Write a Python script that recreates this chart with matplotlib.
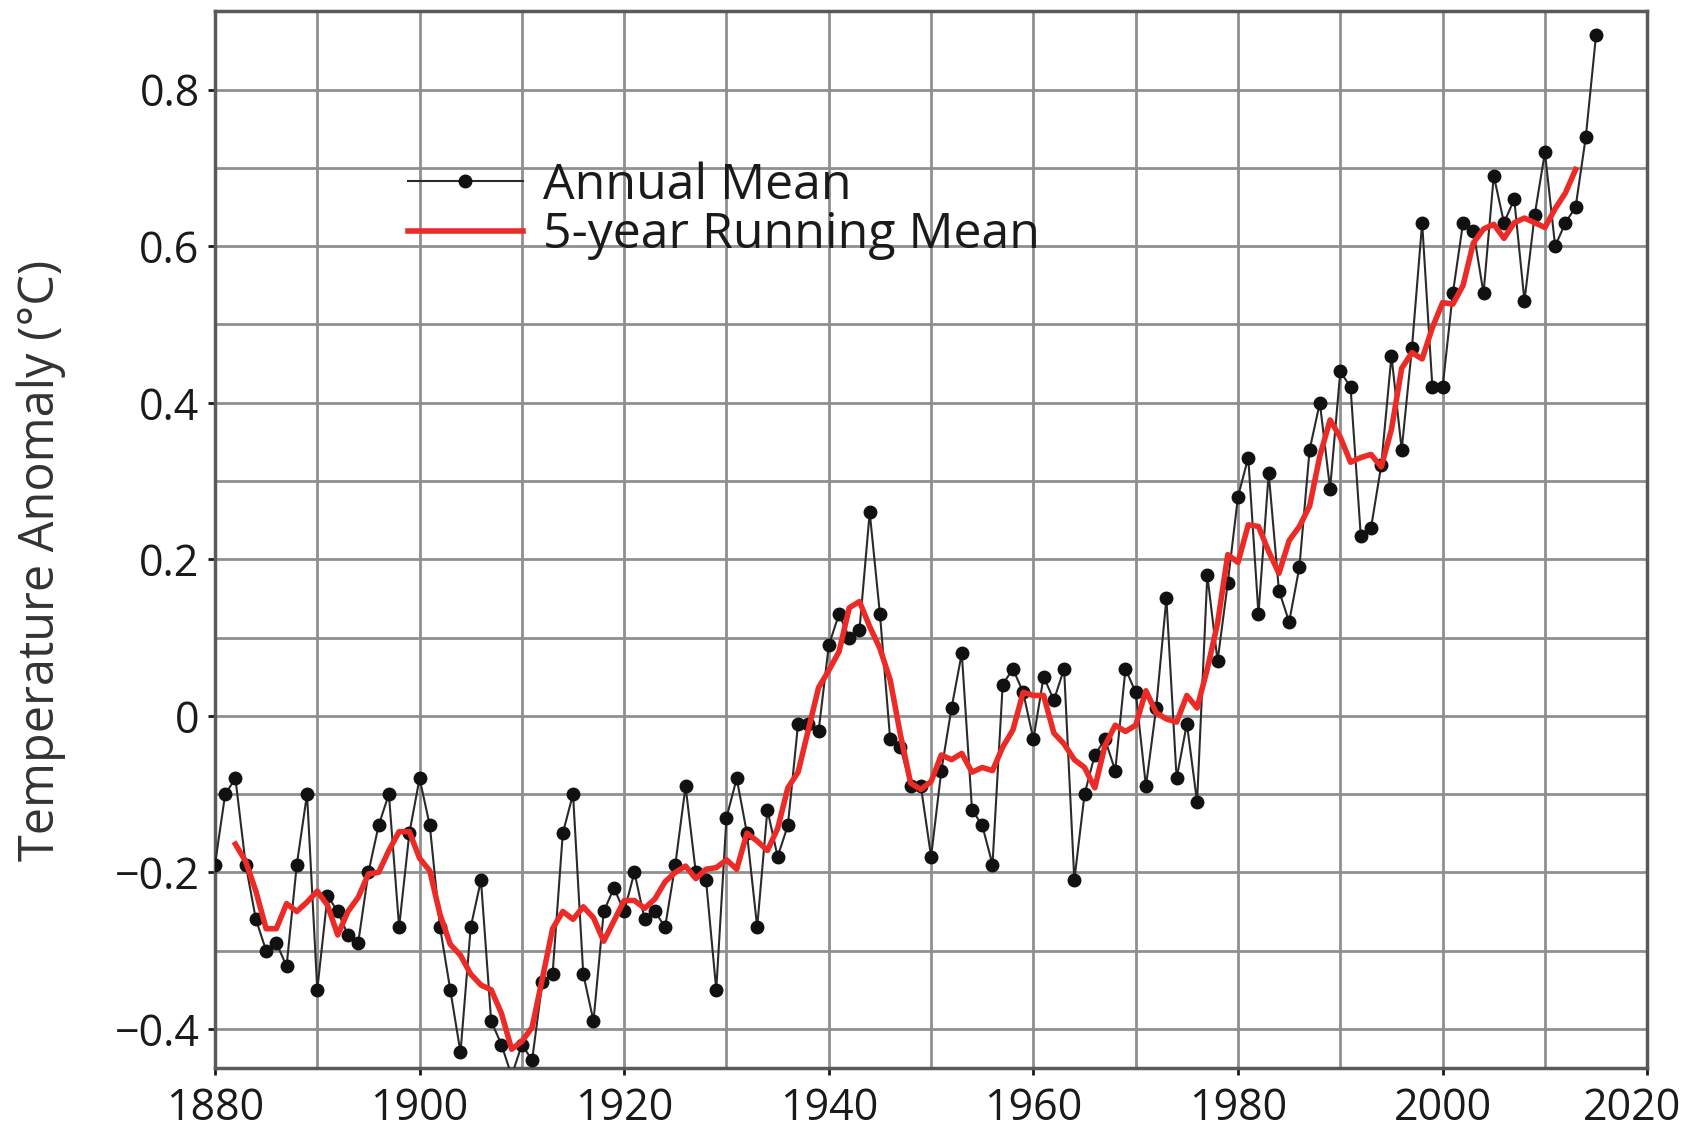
import matplotlib
matplotlib.use("Agg")
import matplotlib.pyplot as plt
import matplotlib.transforms as mtransforms

plt.rcParams['font.family'] = ['Open Sans', 'DejaVu Sans']

# annual global temperature anomaly (deg C), 1880-2015
years = list(range(1880, 2016))
annual = [
    -0.19, -0.10, -0.08, -0.19, -0.26, -0.30, -0.29, -0.32, -0.19, -0.10,   # 1880s
    -0.35, -0.23, -0.25, -0.28, -0.29, -0.20, -0.14, -0.10, -0.27, -0.15,   # 1890s
    -0.08, -0.14, -0.27, -0.35, -0.43, -0.27, -0.21, -0.39, -0.42, -0.46,   # 1900s
    -0.42, -0.44, -0.34, -0.33, -0.15, -0.10, -0.33, -0.39, -0.25, -0.22,   # 1910s
    -0.25, -0.20, -0.26, -0.25, -0.27, -0.19, -0.09, -0.20, -0.21, -0.35,   # 1920s
    -0.13, -0.08, -0.15, -0.27, -0.12, -0.18, -0.14, -0.01, -0.01, -0.02,   # 1930s
    0.09, 0.13, 0.10, 0.11, 0.26, 0.13, -0.03, -0.04, -0.09, -0.09,         # 1940s
    -0.18, -0.07, 0.01, 0.08, -0.12, -0.14, -0.19, 0.04, 0.06, 0.03,        # 1950s
    -0.03, 0.05, 0.02, 0.06, -0.21, -0.10, -0.05, -0.03, -0.07, 0.06,       # 1960s
    0.03, -0.09, 0.01, 0.15, -0.08, -0.01, -0.11, 0.18, 0.07, 0.17,         # 1970s
    0.28, 0.33, 0.13, 0.31, 0.16, 0.12, 0.19, 0.34, 0.40, 0.29,             # 1980s
    0.44, 0.42, 0.23, 0.24, 0.32, 0.46, 0.34, 0.47, 0.63, 0.42,             # 1990s
    0.42, 0.54, 0.63, 0.62, 0.54, 0.69, 0.63, 0.66, 0.53, 0.64,             # 2000s
    0.72, 0.60, 0.63, 0.65, 0.74, 0.87,                                     # 2010s
]

# 5-year running mean as plotted (1882-2013)
run_years = list(range(1882, 2014))
running = [
    -0.164, -0.186, -0.224, -0.272, -0.272, -0.240, -0.250, -0.238,
    -0.224, -0.242, -0.280, -0.250, -0.232, -0.202, -0.200, -0.172, -0.148, -0.148,
    -0.182, -0.198, -0.254, -0.292, -0.306, -0.330, -0.344, -0.350, -0.380, -0.426,
    -0.416, -0.398, -0.336, -0.272, -0.250, -0.260, -0.244, -0.258, -0.288, -0.262,
    -0.236, -0.236, -0.246, -0.234, -0.212, -0.200, -0.192, -0.208, -0.196, -0.194,
    -0.184, -0.196, -0.150, -0.160, -0.172, -0.144, -0.092, -0.072, -0.018, 0.036,
    0.058, 0.082, 0.138, 0.146, 0.114, 0.086, 0.046, -0.024, -0.086, -0.094,
    -0.084, -0.050, -0.056, -0.048, -0.072, -0.066, -0.070, -0.040, -0.018, 0.030,
    0.026, 0.026, -0.022, -0.036, -0.056, -0.066, -0.092, -0.038, -0.012, -0.020,
    -0.012, 0.032, 0.004, -0.004, -0.008, 0.026, 0.010, 0.060, 0.118, 0.206,
    0.196, 0.244, 0.242, 0.210, 0.182, 0.224, 0.242, 0.268, 0.332, 0.378,
    0.356, 0.324, 0.330, 0.334, 0.318, 0.366, 0.444, 0.464, 0.456, 0.496,
    0.528, 0.526, 0.550, 0.604, 0.622, 0.628, 0.610, 0.630, 0.636, 0.630,
    0.624, 0.648, 0.668, 0.698,
]

xticks = [1880, 1900, 1920, 1940, 1960, 1980, 2000, 2020]
yticks = [-0.4, -0.2, 0, 0.2, 0.4, 0.6, 0.8]
ytick_labels = ['\u22120.4', '\u22120.2', '0', '0.2', '0.4', '0.6', '0.8']

fig = plt.figure(figsize=(16.86, 11.43), dpi=100)
ax = fig.add_axes([0.1275, 0.0656, 0.8495, 0.9244])

ax.plot(years, annual, color='#2a2a2a', lw=1.5, marker='o', ms=9,
        markerfacecolor='#111111', markeredgecolor='#111111',
        label='Annual Mean', zorder=3)
ax.plot(run_years, running, color='#ec2a26', lw=4, label='5-year Running Mean',
        zorder=4, solid_joinstyle='round')

ax.set_xlim(1880, 2020)
ax.set_ylim(-0.45, 0.9)

ax.set_xticks(xticks)
ax.set_xticks(range(1890, 2020, 20), minor=True)
ax.set_yticks(yticks)
ax.set_yticklabels(ytick_labels)
ax.set_yticks([-0.3, -0.1, 0.1, 0.3, 0.5, 0.7], minor=True)

ax.grid(True, which='both', color='#8f8f8f', lw=2)
ax.set_axisbelow(True)

for s in ax.spines.values():
    s.set_color('#5a5a5a')
    s.set_linewidth(2.5)

ax.tick_params(axis='both', which='major', labelsize=31, colors='#1a1a1a',
               length=5, width=2)
ax.tick_params(axis='x', pad=8)
ax.tick_params(axis='y', pad=6)
ax.tick_params(which='minor', length=0)
for t in ax.get_xticklabels() + ax.get_yticklabels():
    t.set_color('#1a1a1a')

# last year label sits a bit left so it stays inside the figure
last = ax.get_xticklabels()[-1]
last.set_transform(last.get_transform() +
                   mtransforms.ScaledTranslation(-0.15, 0, fig.dpi_scale_trans))

ax.set_ylabel('Temperature Anomaly (\u00b0C)', fontsize=35, color='#333333')
ax.yaxis.set_label_coords(-0.104, 0.48)

leg = ax.legend(loc='upper left', bbox_to_anchor=(0.117, 0.882), frameon=False,
                fontsize=36, handlelength=2.3, handletextpad=0.4,
                labelspacing=0.0, borderpad=0)
for txt in leg.get_texts():
    txt.set_color('#1a1a1a')

fig.savefig('out.png', dpi=100)
